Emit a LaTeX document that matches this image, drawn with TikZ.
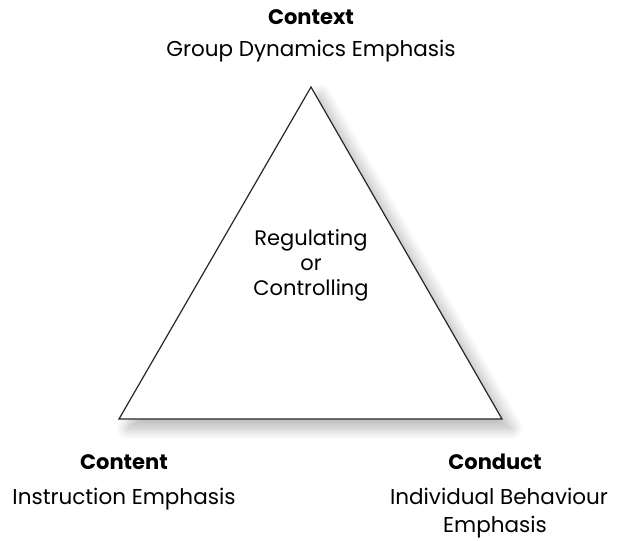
\documentclass[tikz,border=0pt]{standalone}
\usepackage{fontspec}
\setmainfont{Poppins}
\usetikzlibrary{shadows.blur}
\begin{document}
\begin{tikzpicture}[x=1pt,y=-1pt,
  heading/.style={font=\fontsize{21}{24}\selectfont\bfseries, inner sep=0pt, anchor=base},
  caption/.style={font=\fontsize{21.5}{24}\selectfont, inner sep=0pt, anchor=base},
  inner/.style={font=\fontsize{21}{25}\selectfont, align=center, inner sep=0pt},
  tri/.style={draw=black!85, line width=1.2pt, fill=white, line join=miter,
    blur shadow={shadow xshift=9pt, shadow yshift=-9pt, shadow blur steps=20,
      shadow blur radius=12pt, shadow opacity=30}}]
  \useasboundingbox (0,0) rectangle (617,540);
  % the triangle
  \coordinate (apex) at (311,87);
  \coordinate (bl) at (119,419);
  \coordinate (br) at (502,419);
  \path[tri] (apex) -- (br) -- (bl) -- cycle;
  \node[inner] (centre) at (311,265) {Regulating\\or\\Controlling};
  % corner labels
  \node[heading] (ctxh) at (311,25) {Context};
  \node[caption] (ctxc) at (311,57) {Group Dynamics Emphasis};
  \node[heading] (cnth) at (124,469) {Content};
  \node[caption] (cntc) at (124,504) {Instruction Emphasis};
  \node[heading] (cndh) at (495,469) {Conduct};
  \node[caption] (cndc) at (499,504) {Individual Behaviour};
  \node[caption] (cndc2) at (495,532) {Emphasis};
\end{tikzpicture}
\end{document}
